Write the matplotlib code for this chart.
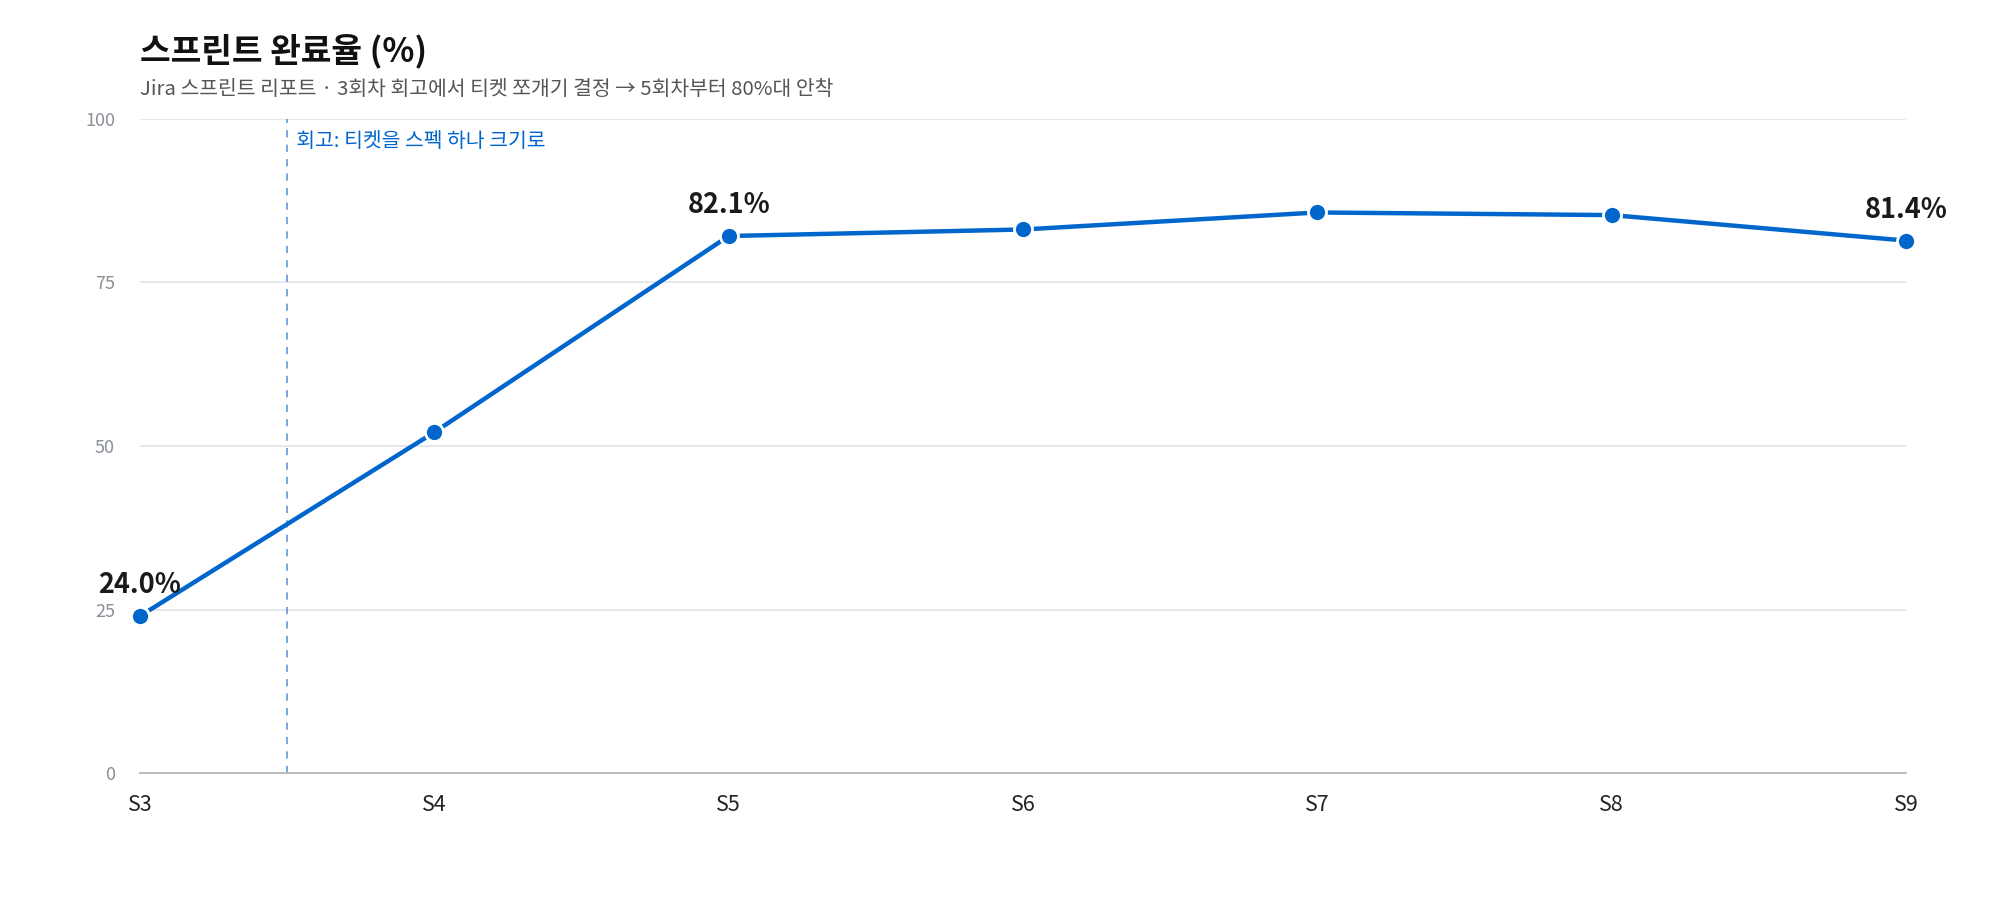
import matplotlib
matplotlib.use("Agg")
import matplotlib.pyplot as plt

plt.rcParams['font.family'] = ['Noto Sans CJK KR', 'DejaVu Sans']

# 데이터
sprints = ['S3', 'S4', 'S5', 'S6', 'S7', 'S8', 'S9']
completion = [24.0, 52.1, 82.1, 83.1, 85.7, 85.3, 81.4]
labeled_idx = [0, 2, 6]
yticks = [0, 25, 50, 75, 100]

BLUE = '#0066cc'

fig = plt.figure(figsize=(20, 9.01), dpi=100)
ax = fig.add_axes([0.07, 0.142, 0.883, 0.726])

x = list(range(len(sprints)))
ax.plot(x, completion, color=BLUE, linewidth=3.2, marker='o', markersize=13,
        markerfacecolor=BLUE, markeredgecolor='white', markeredgewidth=2,
        clip_on=False, zorder=3)

for i in labeled_idx:
    ax.annotate(f"{completion[i]:.1f}%", (x[i], completion[i]),
                xytext=(0, 12), textcoords='offset points',
                ha='center', va='bottom', fontsize=19.5, fontweight='bold',
                color='#1a1a1a')

# 회고 시점
ax.axvline(0.5, color='#6f9fd8', linestyle=(0, (4, 4)), linewidth=1.3, zorder=1)
ax.text(0.5, 98.2, '  회고: 티켓을 스펙 하나 크기로', color=BLUE, fontsize=14.7,
        ha='left', va='top')

ax.set_xlim(0, len(sprints) - 1)
ax.set_ylim(0, 100)
ax.set_xticks(x)
ax.set_xticklabels(sprints, fontsize=15.5, color='#222222')
ax.set_yticks(yticks)
ax.set_yticklabels([str(t) for t in yticks], fontsize=13, color='#8a8f98')
ax.tick_params(axis='y', length=0, pad=18)
ax.tick_params(axis='x', length=0, pad=15)
ax.grid(axis='y', color='#e2e4e8', linewidth=1.2)
ax.set_axisbelow(True)
for s in ['top', 'right', 'left']:
    ax.spines[s].set_visible(False)
ax.spines['bottom'].set_color('#b5b8bd')
ax.spines['bottom'].set_linewidth(1.3)

fig.text(0.07, 0.943, '스프린트 완료율 (%)', fontsize=24, fontweight='bold',
         color='#111111', ha='left', va='center')
fig.text(0.07, 0.901, 'Jira 스프린트 리포트 · 3회차 회고에서 티켓 쪼개기 결정 → 5회차부터 80%대 안착',
         fontsize=14.7, color='#555555', ha='left', va='center')

fig.savefig('out.png', dpi=100)
